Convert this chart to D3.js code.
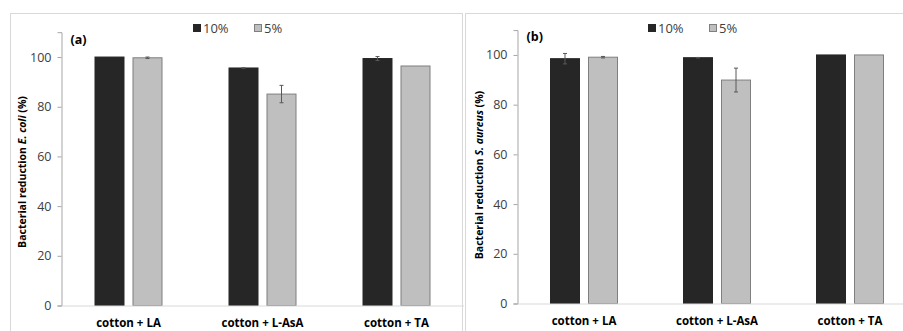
<!DOCTYPE html>
<html>
<head>
<meta charset="utf-8">
<script src="https://cdn.jsdelivr.net/npm/d3@7"></script>
<style>
  body { margin: 0; background: #fff; }
</style>
</head>
<body>
<div id="chart"></div>
<script>
const categories = ["cotton + LA", "cotton + L-AsA", "cotton + TA"];
const series = ["10%", "5%"];
const yTicks = [0, 20, 40, 60, 80, 100];

// panel (a) E. coli
const ecoli10 = [100, 95.6, 99.4];
const ecoli10Err = [0, 0.1, 0.8];
const ecoli5 = [99.7, 85.1, 96.4];
const ecoli5Err = [0.3, 3.5, 0];

// panel (b) S. aureus
const saureus10 = [98.5, 98.9, 100];
const saureus10Err = [2.1, 0.1, 0];
const saureus5 = [99.1, 89.9, 100];
const saureus5Err = [0.3, 4.8, 0];

const colors = {"10%": "#262626", "5%": "#bfbfbf"};
const strokes = {"10%": "#262626", "5%": "#7f7f7f"};
const font = "'Open Sans', sans-serif";

const svg = d3.select("#chart")
    .append("svg")
    .attr("width", 903)
    .attr("height", 331)
    .style("font-family", font);

// panel frames
svg.append("rect").attr("x", 10.5).attr("y", 13.5).attr("width", 452).attr("height", 340)
    .attr("fill", "none").attr("stroke", "#d9d9d9");
svg.append("rect").attr("x", 465.5).attr("y", 13.5).attr("width", 460).attr("height", 340)
    .attr("fill", "none").attr("stroke", "#d9d9d9");

function drawPanel(p) {
    const g = svg.append("g");

    const x0 = d3.scaleBand().domain(categories).range([p.left, p.right]);
    const step = x0.step();
    const x1 = d3.scaleBand().domain(series)
        .range([step / 2 - 34, step / 2 + 34])
        .paddingInner(8 / 38);
    const y = d3.scaleLinear().domain([0, 110]).range([p.bottom, p.top]);

    const rows = [];
    categories.forEach((c, i) => {
        rows.push({cat: c, s: "10%", v: p.v10[i], e: p.e10[i]});
        rows.push({cat: c, s: "5%", v: p.v5[i], e: p.e5[i]});
    });

    // bars
    g.selectAll("rect.bar")
        .data(rows)
        .enter()
        .append("rect")
        .attr("class", "bar")
        .attr("x", d => x0(d.cat) + x1(d.s) + 0.5)
        .attr("y", d => y(d.v))
        .attr("width", x1.bandwidth() - 1)
        .attr("height", d => y(0) - y(d.v))
        .attr("fill", d => colors[d.s])
        .attr("stroke", d => strokes[d.s])
        .attr("stroke-width", 1);

    // error bars
    const errRows = rows.filter(d => d.e > 0);
    const eg = g.selectAll("g.err").data(errRows).enter().append("g")
        .attr("stroke", "#595959").attr("stroke-width", 1);
    const cx = d => x0(d.cat) + x1(d.s) + x1.bandwidth() / 2;
    eg.append("line")
        .attr("x1", cx).attr("x2", cx)
        .attr("y1", d => y(d.v - d.e)).attr("y2", d => y(d.v + d.e));
    eg.append("line")
        .attr("x1", d => cx(d) - 2).attr("x2", d => cx(d) + 2)
        .attr("y1", d => y(d.v - d.e)).attr("y2", d => y(d.v - d.e));
    eg.append("line")
        .attr("x1", d => cx(d) - 2).attr("x2", d => cx(d) + 2)
        .attr("y1", d => y(d.v + d.e)).attr("y2", d => y(d.v + d.e));

    // y axis
    const yAxis = g.append("g")
        .attr("transform", `translate(${p.left},0)`)
        .call(d3.axisLeft(y).tickValues(yTicks).tickSize(4).tickPadding(6));
    yAxis.select(".domain").attr("stroke", "#a6a6a6");
    yAxis.selectAll(".tick line").attr("stroke", "#a6a6a6");
    yAxis.selectAll(".tick text")
        .attr("fill", "#404040")
        .style("font-size", "12.5px")
        .style("font-family", font);

    // x axis
    const xAxis = g.append("g")
        .attr("transform", `translate(0,${p.bottom})`)
        .call(d3.axisBottom(x0).tickSize(0).tickPadding(13));
    xAxis.select(".domain").attr("stroke", "#d9d9d9");
    xAxis.selectAll(".tick text")
        .attr("fill", "#000")
        .style("font-size", "11.5px")
        .style("font-weight", "bold")
        .style("font-family", font);

    // panel tag
    g.append("text")
        .attr("x", p.left + 9)
        .attr("y", p.tagY)
        .style("font-size", "12.5px")
        .style("font-weight", "bold")
        .text(p.tag);

    // y label
    const yl = g.append("text")
        .attr("transform", `translate(${p.labelX},${p.labelY}) rotate(-90)`)
        .attr("text-anchor", "middle")
        .style("font-size", "10.5px")
        .style("font-weight", "bold");
    yl.append("tspan").text("Bacterial reduction ");
    yl.append("tspan").style("font-style", "italic").text(p.organism);
    yl.append("tspan").text(" (%)");

    // legend
    const lg = g.append("g");
    series.forEach((s, i) => {
        const lx = p.legendX + i * 61;
        lg.append("rect")
            .attr("x", lx + 0.5).attr("y", 24.5)
            .attr("width", 7).attr("height", 7)
            .attr("fill", colors[s]).attr("stroke", strokes[s]);
        lg.append("text")
            .attr("x", lx + 10).attr("y", 32.5)
            .attr("fill", "#404040")
            .style("font-size", "13px")
            .text(s);
    });
}

drawPanel({
    left: 61.5, right: 463.5, top: 32.2, bottom: 305.5,
    v10: ecoli10, e10: ecoli10Err, v5: ecoli5, e5: ecoli5Err,
    tag: "(a)", tagY: 44, organism: "E. coli",
    labelX: 26, labelY: 172, legendX: 193
});

drawPanel({
    left: 517.5, right: 916.5, top: 30.1, bottom: 303.5,
    v10: saureus10, e10: saureus10Err, v5: saureus5, e5: saureus5Err,
    tag: "(b)", tagY: 41, organism: "S. aureus",
    labelX: 483, labelY: 175, legendX: 648
});
</script>
</body>
</html>
